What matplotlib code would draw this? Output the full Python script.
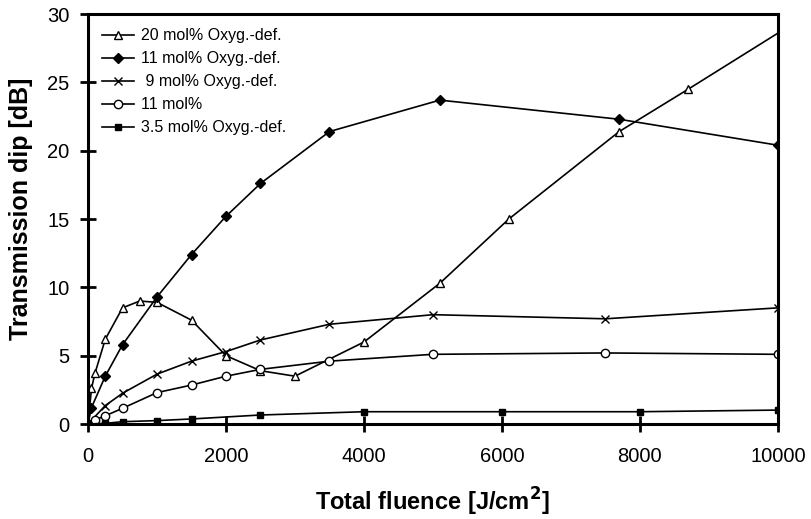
import matplotlib

matplotlib.use("Agg")
import matplotlib.pyplot as plt

plt.rcParams["font.family"] = ["Liberation Sans", "DejaVu Sans"]

# 20 mol% Oxyg.-def. (open triangles)
fluence_20 = [0, 50, 100, 250, 500, 750, 1000, 1500, 2000, 2500, 3000, 4000, 5100, 6100, 7700, 8700, 10000]
dip_20 = [0.0, 2.6, 3.7, 6.2, 8.5, 9.0, 8.9, 7.6, 5.0, 3.9, 3.5, 6.0, 10.3, 15.0, 21.4, 24.5, 28.6]

# 11 mol% Oxyg.-def. (filled diamonds)
fluence_11d = [0, 50, 250, 500, 1000, 1500, 2000, 2500, 3500, 5100, 7700, 10000]
dip_11d = [0.0, 1.2, 3.5, 5.8, 9.3, 12.4, 15.2, 17.6, 21.4, 23.7, 22.3, 20.4]

# 9 mol% Oxyg.-def. (crosses)
fluence_9 = [0, 250, 500, 1000, 1500, 2000, 2500, 3500, 5000, 7500, 10000]
dip_9 = [0.0, 1.35, 2.25, 3.65, 4.6, 5.3, 6.15, 7.3, 8.0, 7.7, 8.5]

# 11 mol% (open circles)
fluence_11 = [0, 100, 250, 500, 1000, 1500, 2000, 2500, 3500, 5000, 7500, 10000]
dip_11 = [0.0, 0.3, 0.6, 1.15, 2.3, 2.85, 3.5, 4.0, 4.6, 5.1, 5.2, 5.1]

# 3.5 mol% Oxyg.-def. (filled squares)
fluence_35 = [0, 250, 500, 1000, 1500, 2500, 4000, 6000, 8000, 10000]
dip_35 = [0.0, 0.05, 0.17, 0.25, 0.37, 0.66, 0.9, 0.9, 0.9, 1.02]

x_ticks = [0, 2000, 4000, 6000, 8000, 10000]
y_ticks = [0, 5, 10, 15, 20, 25, 30]

fig = plt.figure(figsize=(8.12, 5.19), dpi=100)
ax = fig.add_axes([0.1084, 0.183, 0.8496, 0.790])

common = dict(color="black", linewidth=1.2, markeredgewidth=1.0, clip_on=True)
ax.plot(fluence_20, dip_20, marker="^", markersize=6, markerfacecolor="white",
        markevery=list(range(len(fluence_20) - 1)),
        label="20 mol% Oxyg.-def.", **common)
ax.plot(fluence_11d, dip_11d, marker="D", markersize=5, markerfacecolor="black",
        label="11 mol% Oxyg.-def.", **common)
ax.plot(fluence_9, dip_9, marker="x", markersize=6,
        label=" 9 mol% Oxyg.-def.", **common)
ax.plot(fluence_11, dip_11, marker="o", markersize=6, markerfacecolor="white",
        label="11 mol%", **common)
ax.plot(fluence_35, dip_35, marker="s", markersize=5, markerfacecolor="black",
        label="3.5 mol% Oxyg.-def.", **common)

ax.set_xlim(0, 10000)
ax.set_ylim(0, 30)
ax.set_xticks(x_ticks)
ax.set_yticks(y_ticks)

for sp in ax.spines.values():
    sp.set_linewidth(2.2)

ax.tick_params(axis="both", direction="inout", length=11, width=2,
               labelsize=14.5, top=False, right=False)
ax.tick_params(axis="x", pad=11)
ax.tick_params(axis="y", pad=8)

ax.set_xlabel("Total fluence [J/cm$^\\mathbf{2}$]", fontsize=17, fontweight="bold", labelpad=14)
ax.set_ylabel("Transmission dip [dB]", fontsize=18, fontweight="bold")
ax.yaxis.set_label_coords(-0.08, 0.525)

leg = ax.legend(loc="upper left", frameon=False, fontsize=11.5, handlelength=2.0,
                handletextpad=0.4, labelspacing=0.5, borderaxespad=0.5,
                bbox_to_anchor=(0.0, 1.0))

fig.savefig("out.png", dpi=100)
